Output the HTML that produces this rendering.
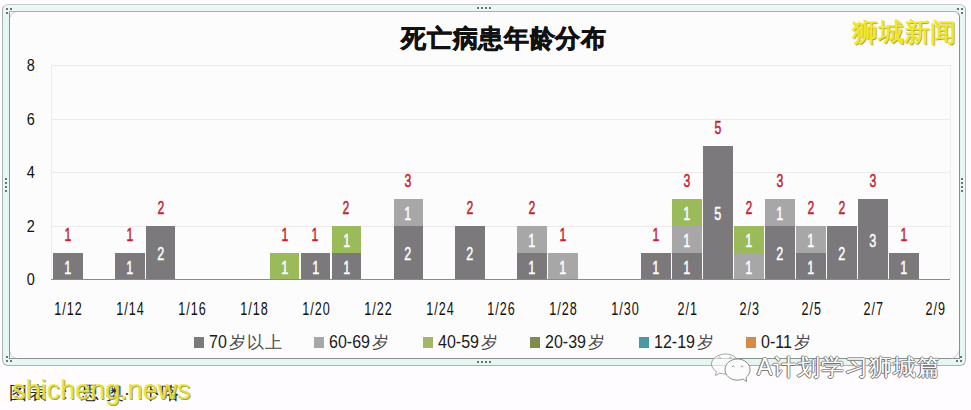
<!DOCTYPE html>
<html><head><meta charset="utf-8">
<style>
html,body{margin:0;padding:0;}
body{width:971px;height:410px;position:relative;overflow:hidden;background:#fefcfe;font-family:"Liberation Sans",sans-serif;}
.abs{position:absolute;}
#outer{position:absolute;left:2px;top:4px;width:964px;height:362px;border:1px solid #a9b3b1;border-top-color:#c5cdcb;border-radius:6px;background:linear-gradient(#eef7f5,#e6f6f3 12px);box-sizing:border-box;}
#inner{position:absolute;left:9px;top:11px;width:951px;height:348px;border:1px solid #8a9290;border-top-color:#a9b1af;border-radius:0 6px 0 0;background:#fdfcfd;box-sizing:border-box;}
.grid{position:absolute;left:51px;width:899px;height:1px;background:#efeaee;}
.bar{position:absolute;}
.in,.tot,.xl,.yl{position:absolute;text-align:center;height:20px;line-height:20px;}
.in span{display:inline-block;transform:scaleX(0.72);}
.xl span{display:inline-block;transform:scaleX(0.7);letter-spacing:1.5px;margin-right:-1.5px;}
.tot span{display:inline-block;transform:scaleX(0.68);}
.yl span{display:inline-block;transform:scaleX(0.85);}
.in{color:#fff;font-size:17.5px;font-weight:normal;-webkit-text-stroke:0.45px #fff;}
.tot{color:#c4222f;font-size:18px;font-weight:normal;-webkit-text-stroke:0.5px #c4222f;}
.xl{top:299px;width:60px;color:#111;font-size:18px;}
.yl{left:16px;width:30px;color:#111;font-size:17px;}
#title{position:absolute;left:379px;top:20.5px;width:250px;text-align:center;font-size:25px;letter-spacing:0.7px;font-weight:900;color:#111;line-height:34px;-webkit-text-stroke:0.7px #111;white-space:nowrap;}
#wm1{position:absolute;left:852px;top:15px;font-size:26px;-webkit-text-stroke:0.5px #f2ea1e;color:#f2ea1e;line-height:34px;text-shadow:1px 1px 1px #8a8a3a;white-space:nowrap;}
.leg{position:absolute;top:332px;font-size:17px;color:#4a4a4a;line-height:22px;white-space:nowrap;font-weight:300;letter-spacing:1px;}
.leg b{font-weight:normal;font-size:16px;display:inline-block;transform:scaleY(1.12);transform-origin:0 70%;letter-spacing:0;color:#1a1a1a;margin-right:2px;}
.sq{position:absolute;top:337px;width:10px;height:11px;}
.dot{position:absolute;width:2px;height:2px;background:#6d7170;}
#cap{position:absolute;left:0;top:380px;width:200px;height:26px;font-size:18px;color:#222;line-height:26px;white-space:nowrap;font-weight:300;}
#cap i{position:absolute;top:0;font-style:normal;}
#wm2{position:absolute;left:12px;top:374px;font-size:27px;color:rgba(238,232,52,0.9);line-height:32px;white-space:nowrap;text-shadow:1px 1px 0 #a0a050;}
#wm3{position:absolute;left:757px;top:352px;font-size:23px;letter-spacing:1px;color:#fff;line-height:30px;white-space:nowrap;text-shadow:-1px 0 0 #666,0 1px 0 #777,1px 0 0 #999,0 -1px 0 #999;}
</style></head><body>
<div id="outer"></div>
<div id="inner"></div>
<div class="abs" style="left:51px;top:65px;width:1px;height:214px;background:#f0ecef"></div>
<div class="abs" style="left:950px;top:65px;width:1px;height:214px;background:#f0ecef"></div>
<div class="grid" style="top:225.78px"></div>
<div class="grid" style="top:172.26px"></div>
<div class="grid" style="top:118.74px"></div>
<div class="grid" style="top:65.22px"></div>
<div class="bar" style="left:53.00px;top:252.54px;width:29.6px;height:26.76px;background:#7b797b"></div>
<div class="in" style="left:53.00px;top:257.62px;width:29.6px"><span>1</span></div>
<div class="tot" style="left:53.00px;top:224.54px;width:29.6px"><span>1</span></div>
<div class="bar" style="left:114.92px;top:252.54px;width:29.6px;height:26.76px;background:#7b797b"></div>
<div class="in" style="left:114.92px;top:257.62px;width:29.6px"><span>1</span></div>
<div class="tot" style="left:114.92px;top:224.54px;width:29.6px"><span>1</span></div>
<div class="bar" style="left:145.88px;top:225.78px;width:29.6px;height:53.52px;background:#7b797b"></div>
<div class="in" style="left:145.88px;top:244.24px;width:29.6px"><span>2</span></div>
<div class="tot" style="left:145.88px;top:197.78px;width:29.6px"><span>2</span></div>
<div class="bar" style="left:269.72px;top:252.54px;width:29.6px;height:26.76px;background:#9bba5a"></div>
<div class="in" style="left:269.72px;top:257.62px;width:29.6px"><span>1</span></div>
<div class="tot" style="left:269.72px;top:224.54px;width:29.6px"><span>1</span></div>
<div class="bar" style="left:300.68px;top:252.54px;width:29.6px;height:26.76px;background:#7b797b"></div>
<div class="in" style="left:300.68px;top:257.62px;width:29.6px"><span>1</span></div>
<div class="tot" style="left:300.68px;top:224.54px;width:29.6px"><span>1</span></div>
<div class="bar" style="left:331.64px;top:252.54px;width:29.6px;height:26.76px;background:#7b797b"></div>
<div class="in" style="left:331.64px;top:257.62px;width:29.6px"><span>1</span></div>
<div class="bar" style="left:331.64px;top:225.78px;width:29.6px;height:26.76px;background:#9bba5a"></div>
<div class="in" style="left:331.64px;top:230.86px;width:29.6px"><span>1</span></div>
<div class="tot" style="left:331.64px;top:197.78px;width:29.6px"><span>2</span></div>
<div class="bar" style="left:393.56px;top:225.78px;width:29.6px;height:53.52px;background:#7b797b"></div>
<div class="in" style="left:393.56px;top:244.24px;width:29.6px"><span>2</span></div>
<div class="bar" style="left:393.56px;top:199.02px;width:29.6px;height:26.76px;background:#a8a7a8"></div>
<div class="in" style="left:393.56px;top:204.10px;width:29.6px"><span>1</span></div>
<div class="tot" style="left:393.56px;top:171.02px;width:29.6px"><span>3</span></div>
<div class="bar" style="left:455.48px;top:225.78px;width:29.6px;height:53.52px;background:#7b797b"></div>
<div class="in" style="left:455.48px;top:244.24px;width:29.6px"><span>2</span></div>
<div class="tot" style="left:455.48px;top:197.78px;width:29.6px"><span>2</span></div>
<div class="bar" style="left:517.40px;top:252.54px;width:29.6px;height:26.76px;background:#7b797b"></div>
<div class="in" style="left:517.40px;top:257.62px;width:29.6px"><span>1</span></div>
<div class="bar" style="left:517.40px;top:225.78px;width:29.6px;height:26.76px;background:#a8a7a8"></div>
<div class="in" style="left:517.40px;top:230.86px;width:29.6px"><span>1</span></div>
<div class="tot" style="left:517.40px;top:197.78px;width:29.6px"><span>2</span></div>
<div class="bar" style="left:548.36px;top:252.54px;width:29.6px;height:26.76px;background:#a8a7a8"></div>
<div class="in" style="left:548.36px;top:257.62px;width:29.6px"><span>1</span></div>
<div class="tot" style="left:548.36px;top:224.54px;width:29.6px"><span>1</span></div>
<div class="bar" style="left:641.24px;top:252.54px;width:29.6px;height:26.76px;background:#7b797b"></div>
<div class="in" style="left:641.24px;top:257.62px;width:29.6px"><span>1</span></div>
<div class="tot" style="left:641.24px;top:224.54px;width:29.6px"><span>1</span></div>
<div class="bar" style="left:672.20px;top:252.54px;width:29.6px;height:26.76px;background:#7b797b"></div>
<div class="in" style="left:672.20px;top:257.62px;width:29.6px"><span>1</span></div>
<div class="bar" style="left:672.20px;top:225.78px;width:29.6px;height:26.76px;background:#a8a7a8"></div>
<div class="in" style="left:672.20px;top:230.86px;width:29.6px"><span>1</span></div>
<div class="bar" style="left:672.20px;top:199.02px;width:29.6px;height:26.76px;background:#9bba5a"></div>
<div class="in" style="left:672.20px;top:204.10px;width:29.6px"><span>1</span></div>
<div class="tot" style="left:672.20px;top:171.02px;width:29.6px"><span>3</span></div>
<div class="bar" style="left:703.16px;top:145.50px;width:29.6px;height:133.80px;background:#7b797b"></div>
<div class="in" style="left:703.16px;top:204.10px;width:29.6px"><span>5</span></div>
<div class="tot" style="left:703.16px;top:117.50px;width:29.6px"><span>5</span></div>
<div class="bar" style="left:734.12px;top:252.54px;width:29.6px;height:26.76px;background:#a8a7a8"></div>
<div class="in" style="left:734.12px;top:257.62px;width:29.6px"><span>1</span></div>
<div class="bar" style="left:734.12px;top:225.78px;width:29.6px;height:26.76px;background:#9bba5a"></div>
<div class="in" style="left:734.12px;top:230.86px;width:29.6px"><span>1</span></div>
<div class="tot" style="left:734.12px;top:197.78px;width:29.6px"><span>2</span></div>
<div class="bar" style="left:765.08px;top:225.78px;width:29.6px;height:53.52px;background:#7b797b"></div>
<div class="in" style="left:765.08px;top:244.24px;width:29.6px"><span>2</span></div>
<div class="bar" style="left:765.08px;top:199.02px;width:29.6px;height:26.76px;background:#a8a7a8"></div>
<div class="in" style="left:765.08px;top:204.10px;width:29.6px"><span>1</span></div>
<div class="tot" style="left:765.08px;top:171.02px;width:29.6px"><span>3</span></div>
<div class="bar" style="left:796.04px;top:252.54px;width:29.6px;height:26.76px;background:#7b797b"></div>
<div class="in" style="left:796.04px;top:257.62px;width:29.6px"><span>1</span></div>
<div class="bar" style="left:796.04px;top:225.78px;width:29.6px;height:26.76px;background:#a8a7a8"></div>
<div class="in" style="left:796.04px;top:230.86px;width:29.6px"><span>1</span></div>
<div class="tot" style="left:796.04px;top:197.78px;width:29.6px"><span>2</span></div>
<div class="bar" style="left:827.00px;top:225.78px;width:29.6px;height:53.52px;background:#7b797b"></div>
<div class="in" style="left:827.00px;top:244.24px;width:29.6px"><span>2</span></div>
<div class="tot" style="left:827.00px;top:197.78px;width:29.6px"><span>2</span></div>
<div class="bar" style="left:857.96px;top:199.02px;width:29.6px;height:80.28px;background:#7b797b"></div>
<div class="in" style="left:857.96px;top:230.86px;width:29.6px"><span>3</span></div>
<div class="tot" style="left:857.96px;top:171.02px;width:29.6px"><span>3</span></div>
<div class="bar" style="left:888.92px;top:252.54px;width:29.6px;height:26.76px;background:#7b797b"></div>
<div class="in" style="left:888.92px;top:257.62px;width:29.6px"><span>1</span></div>
<div class="tot" style="left:888.92px;top:224.54px;width:29.6px"><span>1</span></div>
<div class="xl" style="left:37.80px"><span>1/12</span></div>
<div class="xl" style="left:99.72px"><span>1/14</span></div>
<div class="xl" style="left:161.64px"><span>1/16</span></div>
<div class="xl" style="left:223.56px"><span>1/18</span></div>
<div class="xl" style="left:285.48px"><span>1/20</span></div>
<div class="xl" style="left:347.40px"><span>1/22</span></div>
<div class="xl" style="left:409.32px"><span>1/24</span></div>
<div class="xl" style="left:471.24px"><span>1/26</span></div>
<div class="xl" style="left:533.16px"><span>1/28</span></div>
<div class="xl" style="left:595.08px"><span>1/30</span></div>
<div class="xl" style="left:657.00px"><span>2/1</span></div>
<div class="xl" style="left:718.92px"><span>2/3</span></div>
<div class="xl" style="left:780.84px"><span>2/5</span></div>
<div class="xl" style="left:842.76px"><span>2/7</span></div>
<div class="xl" style="left:904.68px"><span>2/9</span></div>
<div class="yl" style="top:270.30px"><span>0</span></div>
<div class="yl" style="top:216.78px"><span>2</span></div>
<div class="yl" style="top:163.26px"><span>4</span></div>
<div class="yl" style="top:109.74px"><span>6</span></div>
<div class="yl" style="top:56.22px"><span>8</span></div>
<div class="abs" style="left:51px;top:278.80px;width:899px;height:1.3px;background:#8a8a8a"></div>
<i class="dot" style="left:5.6px;top:8.0px"></i><i class="dot" style="left:9.8px;top:8.0px"></i><i class="dot" style="left:5.6px;top:11.7px"></i><i class="dot" style="left:5.6px;top:356.0px"></i><i class="dot" style="left:5.6px;top:360.1px"></i><i class="dot" style="left:9.7px;top:360.1px"></i><i class="dot" style="left:960.2px;top:355.8px"></i><i class="dot" style="left:956.2px;top:360.2px"></i><i class="dot" style="left:960.2px;top:360.2px"></i><i class="dot" style="left:956.8px;top:8.0px"></i><i class="dot" style="left:960.5px;top:8.0px"></i><i class="dot" style="left:960.5px;top:11.9px"></i><i class="dot" style="left:476.9px;top:6.9px"></i><i class="dot" style="left:481.0px;top:6.9px"></i><i class="dot" style="left:485.0px;top:6.9px"></i><i class="dot" style="left:489.0px;top:6.9px"></i><i class="dot" style="left:476.9px;top:361.2px"></i><i class="dot" style="left:481.0px;top:361.2px"></i><i class="dot" style="left:485.0px;top:361.2px"></i><i class="dot" style="left:489.0px;top:361.2px"></i><i class="dot" style="left:4.8px;top:178.1px"></i><i class="dot" style="left:4.8px;top:182.2px"></i><i class="dot" style="left:4.8px;top:186.2px"></i><i class="dot" style="left:4.8px;top:190.1px"></i><i class="dot" style="left:961.0px;top:177.5px"></i><i class="dot" style="left:961.0px;top:181.7px"></i><i class="dot" style="left:961.0px;top:185.8px"></i><i class="dot" style="left:961.0px;top:190.0px"></i>
<svg class="abs" style="left:0;top:0" width="971" height="410"><path d="M10 17.5 Q11 13 15.5 12 M10 351.5 Q11 357 16.5 358.5 M951.5 358.5 Q957 357.5 958.5 351.5" fill="none" stroke="#b9c1bf" stroke-width="0.8"/></svg>
<div id="title">死亡病患年龄分布</div>
<div id="wm1">狮城新闻</div>
<i class="sq" style="left:194px;background:#7b797b"></i><div class="leg" style="left:209px"><b>70</b>岁以上</div>
<i class="sq" style="left:314px;background:#a8a7a8"></i><div class="leg" style="left:329px"><b>60-69</b>岁</div>
<i class="sq" style="left:423px;background:#a2b766"></i><div class="leg" style="left:438px"><b>40-59</b>岁</div>
<i class="sq" style="left:530px;background:#7f8a4e"></i><div class="leg" style="left:545px"><b>20-39</b>岁</div>
<i class="sq" style="left:639px;background:#4a97a6"></i><div class="leg" style="left:654px"><b>12-19</b>岁</div>
<i class="sq" style="left:746px;background:#d38c48"></i><div class="leg" style="left:761px"><b>0-11</b>岁</div>
<div id="cap"><i style="left:9px">图</i><i style="left:29px">表</i><i style="left:56px">：</i><i style="left:81px">思</i><i style="left:106px">奥</i><i style="left:124px">·</i><i style="left:143px">卜</i><i style="left:161px">咯</i></div>
<div id="wm2">shicheng.news</div>
<svg class="abs" style="left:705px;top:348px" width="50" height="40" viewBox="705 348 50 40">
<path d="M725.5 354 C733 354 738.5 358.5 738.5 364 C738.5 369.5 733 374 725.5 374 C723.5 374 721.5 373.7 719.8 373.1 L715.5 375.5 L716.3 371.5 C713.6 369.6 711.5 367 711.5 364 C711.5 358.5 718 354 725.5 354 Z" fill="rgba(255,255,255,0.55)" stroke="#9a9a9a" stroke-width="0.9"/>
<path d="M718.3 358.3 Q719.6 355.8 720.9 358.3 M729.1 358.3 Q730.4 355.8 731.7 358.3" fill="none" stroke="#8a8a8a" stroke-width="0.9"/>
<path d="M737.5 359 C744.5 359 750 363.8 750 369.8 C750 372.8 748.6 375.4 746.2 377.3 L746.5 381.5 L743 379 C741.3 379.6 739.4 380.2 737.5 380.2 C730.5 380.2 725 375.5 725 369.8 C725 363.8 730.5 359 737.5 359 Z" fill="#fdfcfd" stroke="#7f7f7f" stroke-width="0.9"/>
<path d="M732 367 Q733.3 364.8 734.6 367 M740.8 367 Q742.1 364.8 743.4 367" fill="none" stroke="#8a8a8a" stroke-width="0.9"/>
</svg>
<div id="wm3">A计划学习狮城篇</div>
</body></html>
